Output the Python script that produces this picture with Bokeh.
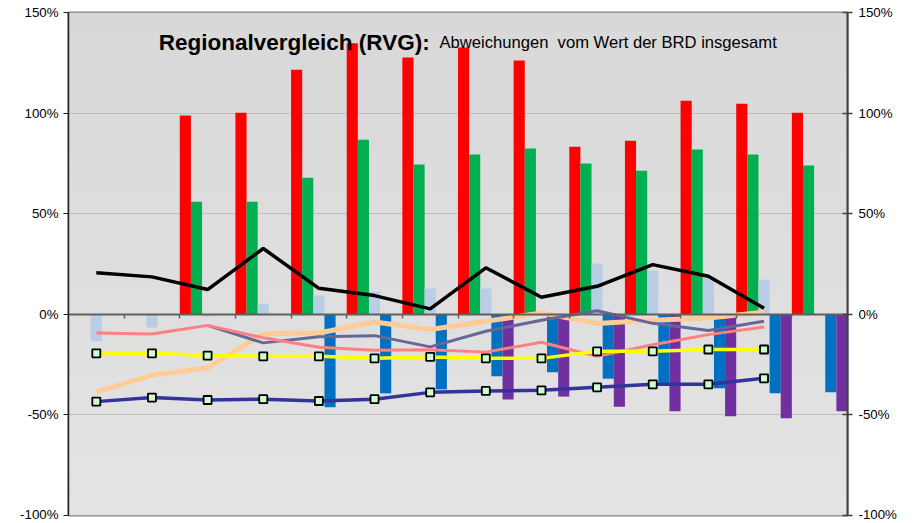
import numpy as np
from bokeh.plotting import figure
from bokeh.models import (Range1d, LinearAxis, FixedTicker, NumeralTickFormatter,
                          Label, BoxAnnotation, CustomJSTickFormatter, ColumnDataSource)
from bokeh.embed import file_html
from bokeh.resources import INLINE

# ---- data (fractions of the BRD value; None = no value) ----
regions = [f"Region {i}" for i in range(1, 15)]
red_vals    = [None, None, 0.988, 1.002, 1.216, 1.347, 1.276, 1.326, 1.261, 0.833, 0.863, 1.062, 1.047, 1.002]
green_vals  = [None, None, 0.560, 0.560, 0.679, 0.868, 0.744, 0.794, 0.824, 0.749, 0.714, 0.819, 0.794, 0.739]
lblue_vals  = [-0.134, -0.065, -0.010, 0.053, 0.093, 0.113, 0.128, 0.128, None, 0.252, 0.217, 0.182, 0.172, None]
blue_vals   = [None, None, None, None, -0.462, -0.393, -0.373, -0.308, -0.288, -0.320, -0.346, -0.368, -0.393, -0.388]
purple_vals = [None, None, None, None, None, None, None, -0.424, -0.409, -0.459, -0.482, -0.507, -0.517, -0.482]

black_line  = [0.207, 0.186, 0.123, 0.327, 0.129, 0.093, 0.027, 0.231, 0.085, 0.139, 0.247, 0.189, 0.030]
pink_line   = [-0.093, -0.098, -0.055, -0.117, -0.164, -0.179, -0.176, -0.188, -0.139, -0.209, -0.151, -0.101, -0.063]
slate_line  = [None, None, -0.055, -0.142, -0.112, -0.106, -0.162, -0.084, -0.030, 0.018, -0.045, -0.080, -0.035]
peach_line  = [-0.386, -0.303, -0.266, -0.097, -0.093, -0.038, -0.076, -0.035, 0.007, -0.046, -0.030, -0.018, 0.010]
yellow_line = [-0.194, -0.194, -0.205, -0.209, -0.209, -0.219, -0.212, -0.219, -0.219, -0.184, -0.184, -0.175, -0.175]
navy_line   = [-0.434, -0.414, -0.426, -0.422, -0.431, -0.422, -0.388, -0.381, -0.378, -0.363, -0.348, -0.348, -0.318]

title_bold = "Regionalvergleich (RVG):"
title_rest = "Abweichungen\u00a0 vom Wert der BRD insgesamt"
y_ticks = [-1.0, -0.5, 0.0, 0.5, 1.0, 1.5]

FONT = "Liberation Sans"

p = figure(frame_width=779, frame_height=503, output_backend="svg", toolbar_location=None,
           x_range=Range1d(0, len(regions)), y_range=Range1d(-1.0, 1.5),
           min_border_left=68, min_border_right=60, min_border_top=12, min_border_bottom=6)
p.background_fill_color = "#DDDDDD"
p.border_fill_color = "white"
p.outline_line_color = "#808080"
p.outline_line_width = 2

# subtle vertical gradient of the plot area
nb = 25
for k in range(nb):
    b = -1.0 + 2.5 * k / nb
    t = -1.0 + 2.5 * (k + 1) / nb
    c = int(round(0xE4 - (0xE4 - 0xD8) * (k + 0.5) / nb))
    p.add_layout(BoxAnnotation(bottom=b, top=t, fill_color=f"#{c:02X}{c:02X}{c:02X}",
                               fill_alpha=1.0, line_color=None, level="image"))

centers = np.arange(len(regions)) + 0.5

def bars(vals, offset, color):
    xs = [centers[i] + offset for i, v in enumerate(vals) if v is not None]
    ys = [v for v in vals if v is not None]
    src = ColumnDataSource(dict(x=xs, top=ys))
    p.vbar(x="x", top="top", bottom=0, width=0.2, source=src, fill_color=color, line_color=None)

bars(red_vals, -0.4, "#FF0000")
bars(green_vals, -0.2, "#00B050")
bars(lblue_vals, 0.0, "#B9CDE5")
bars(blue_vals, 0.2, "#0070C0")
bars(purple_vals, 0.4, "#7030A0")

lx = centers[:len(black_line)]

def arr(vals):
    return np.array([np.nan if v is None else v for v in vals], dtype=float)

p.line(lx, arr(peach_line), line_color="#FFCC99", line_width=5)
p.line(lx, arr(slate_line), line_color="#666699", line_width=3)
p.line(lx, arr(pink_line), line_color="#FF8080", line_width=3)
p.line(lx, arr(black_line), line_color="#000000", line_width=3.5)
p.line(lx, arr(yellow_line), line_color="#FFFF00", line_width=3.5)
p.line(lx, arr(navy_line), line_color="#333399", line_width=3.5)
p.scatter(lx, arr(yellow_line), marker="square", size=8, fill_color="#CCFFCC", line_color="#000000", line_width=1.8)
p.scatter(lx, arr(navy_line), marker="square", size=8, fill_color="#CCFFCC", line_color="#000000", line_width=1.8)

# grid
p.xgrid.visible = False
p.ygrid.ticker = FixedTicker(ticks=y_ticks)
p.ygrid.grid_line_color = "#BDBDBD"
p.ygrid.grid_line_width = 1

# category axis sitting at 0
xa = p.xaxis[0]
xa.fixed_location = 0
xa.ticker = FixedTicker(ticks=list(range(1, len(regions))))
xa.formatter = CustomJSTickFormatter(code="return ''")
xa.major_label_text_font_size = "0px"
xa.major_label_standoff = 0
xa.major_tick_in = 0
xa.major_tick_out = 4
xa.minor_tick_line_color = None
xa.axis_line_color = "#606060"
xa.axis_line_width = 2
xa.major_tick_line_color = "#606060"
xa.major_tick_line_width = 1.5

# left axis
ya = p.yaxis[0]
ya.ticker = FixedTicker(ticks=y_ticks)
ya.formatter = NumeralTickFormatter(format="0%")
ya.major_tick_in = 0
ya.major_tick_out = 5
ya.minor_tick_line_color = None
ya.axis_line_color = "#202020"
ya.axis_line_width = 1.5
ya.major_tick_line_color = "#202020"
ya.major_label_text_font = FONT
ya.major_label_text_font_size = "13.3px"
ya.major_label_text_color = "#000000"
ya.major_label_standoff = 5

# right axis
ra = LinearAxis(ticker=FixedTicker(ticks=y_ticks), formatter=NumeralTickFormatter(format="0%"))
ra.major_tick_in = 5
ra.major_tick_out = 5
ra.minor_tick_line_color = None
ra.axis_line_color = "#404040"
ra.axis_line_width = 2
ra.major_tick_line_color = "#404040"
ra.major_tick_line_width = 1.5
ra.major_label_text_font = FONT
ra.major_label_text_font_size = "13.3px"
ra.major_label_text_color = "#000000"
ra.major_label_standoff = 6
p.add_layout(ra, "right")

# in-plot title
p.add_layout(Label(x=1.623, y=1.352, text=title_bold, text_font=FONT, text_font_size="22.5px",
                   text_font_style="bold", text_color="#000000", text_baseline="alphabetic"))
p.add_layout(Label(x=6.668, y=1.352, text=title_rest, text_font=FONT, text_font_size="16.6px",
                   text_color="#000000", text_baseline="alphabetic"))

open("out.html", "w").write(file_html(p, INLINE))
